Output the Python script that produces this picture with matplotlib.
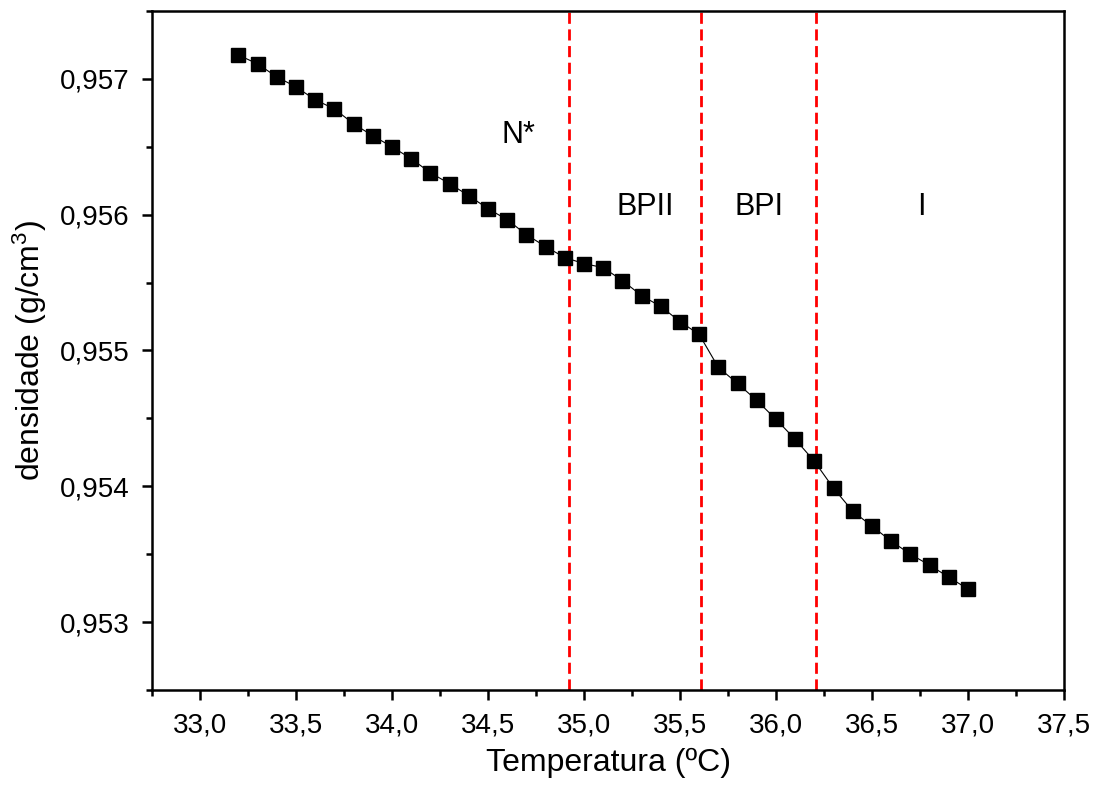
import matplotlib
matplotlib.use("Agg")
import matplotlib.pyplot as plt
from matplotlib.ticker import MultipleLocator, FuncFormatter

plt.rcParams['font.family'] = ['Liberation Sans', 'DejaVu Sans']
plt.rcParams['mathtext.fontset'] = 'custom'
plt.rcParams['mathtext.rm'] = 'Liberation Sans'
plt.rcParams['mathtext.it'] = 'Liberation Sans:italic'

# temperatura (ºC) e densidade (g/cm3)
temperatura = [33.2, 33.3, 33.4, 33.5, 33.6, 33.7, 33.8, 33.9, 34.0, 34.1,
               34.2, 34.3, 34.4, 34.5, 34.6, 34.7, 34.8, 34.9, 35.0, 35.1,
               35.2, 35.3, 35.4, 35.5, 35.6, 35.7, 35.8, 35.9, 36.0, 36.1,
               36.2, 36.3, 36.4, 36.5, 36.6, 36.7, 36.8, 36.9, 37.0]
densidade = [0.957176, 0.957110, 0.957015, 0.956941, 0.956846, 0.956779,
             0.956669, 0.956581, 0.956500, 0.956412, 0.956309, 0.956228,
             0.956140, 0.956044, 0.955963, 0.955853, 0.955765, 0.955684,
             0.955640, 0.955610, 0.955515, 0.955404, 0.955324, 0.955213,
             0.955118, 0.954875, 0.954757, 0.954632, 0.954493, 0.954346,
             0.954184, 0.953985, 0.953816, 0.953706, 0.953596, 0.953500,
             0.953419, 0.953331, 0.953243]

transicoes = [34.92, 35.61, 36.21]  # N*->BPII, BPII->BPI, BPI->I
fases = ['N*', 'BPII', 'BPI', 'I']
fases_x = [34.66, 35.32, 35.91, 36.755]
fases_y = [0.95659, 0.95606, 0.95606, 0.95606]

fig = plt.figure(figsize=(10.96, 7.91), dpi=100)
ax = fig.add_axes([0.1387, 0.1277, 0.8321, 0.8584])

ax.plot(temperatura, densidade, '-', color='black', lw=0.8,
        marker='s', ms=9.5, mfc='black', mec='black', zorder=3)

for xt in transicoes:
    ax.axvline(xt, color='red', ls=(0, (4.0, 2.0)), lw=2.0, zorder=2)

for nome, xf, yf in zip(fases, fases_x, fases_y):
    ax.text(xf, yf, nome, fontsize=22, ha='center', va='center')

ax.set_xlim(32.75, 37.5)
ax.set_ylim(0.9525, 0.9575)

ax.xaxis.set_major_locator(MultipleLocator(0.5))
ax.xaxis.set_minor_locator(MultipleLocator(0.25))
ax.yaxis.set_major_locator(MultipleLocator(0.001))
ax.yaxis.set_minor_locator(MultipleLocator(0.0005))
ax.xaxis.set_major_formatter(FuncFormatter(lambda v, p: f'{v:.1f}'.replace('.', ',')))
ax.yaxis.set_major_formatter(FuncFormatter(lambda v, p: f'{v:.3f}'.replace('.', ',')))

for s in ax.spines.values():
    s.set_linewidth(1.8)
ax.tick_params(which='major', direction='out', length=7, width=1.8,
               labelsize=20, top=False, right=False, pad=9)
ax.tick_params(which='minor', direction='out', length=4, width=1.8,
               top=False, right=False)

ax.set_xlabel('Temperatura (ºC)', fontsize=23, labelpad=7)
ax.set_ylabel('densidade (g/cm$^3$)', fontsize=23, labelpad=8)

fig.savefig('out.png', dpi=100)
